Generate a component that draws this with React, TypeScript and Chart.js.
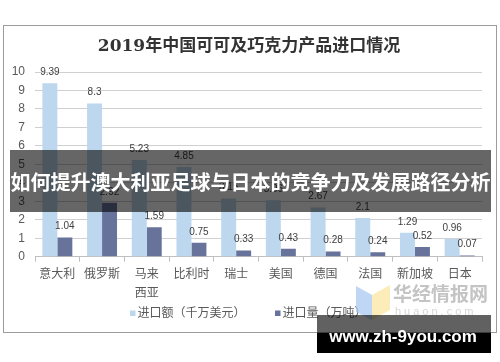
import React, { useEffect, useRef } from 'react';
import { Chart, registerables } from 'chart.js';

Chart.register(...registerables);

const categories: (string | string[])[] = ['意大利', '俄罗斯', ['马来', '西亚'], '比利时', '瑞士', '美国', '德国', '法国', '新加坡', '日本'];
const importValue = [9.39, 8.3, 5.23, 4.85, 3.15, 3.06, 2.67, 2.1, 1.29, 0.96];
const importVolume = [1.04, 2.92, 1.59, 0.75, 0.33, 0.43, 0.28, 0.24, 0.52, 0.07];
const seriesNames = ['进口额（千万美元）', '进口量（万吨）'];
const seriesColors = ['#bdd7ee', '#68739b'];
const titleText = '2019年中国可可及巧克力产品进口情况';
const bannerText = '如何提升澳大利亚足球与日本的竞争力及发展路径分析';
const watermarkName = '华经情报网';
const watermarkSub = 'huaon.com';
const watermarkUrl = 'www.zh-9you.com';

const SANS = "'Liberation Sans', 'Noto Sans CJK SC', sans-serif";

export default function App() {
  const ref = useRef<HTMLCanvasElement | null>(null);

  useEffect(() => {
    document.body.style.margin = '0';
    const canvas = ref.current;
    if (!canvas) return;

    const decor = {
      id: 'decor',
      beforeDraw(chart: any) {
        const ctx = chart.ctx;
        ctx.save();
        ctx.fillStyle = '#ffffff';
        ctx.fillRect(0, 0, chart.width, chart.height);
        ctx.strokeStyle = '#9c9c9c';
        ctx.lineWidth = 1;
        ctx.strokeRect(3.5, 25.5, 493, 307);
        ctx.fillStyle = '#333333';
        ctx.font = "bold 17px 'DejaVu Serif', 'Noto Sans CJK SC', serif";
        ctx.textAlign = 'center';
        ctx.textBaseline = 'middle';
        ctx.fillText(titleText, 249, 47);
        ctx.restore();
      },
      afterDatasetsDraw(chart: any) {
        const ctx = chart.ctx;
        ctx.save();
        ctx.font = `10px ${SANS}`;
        ctx.fillStyle = '#404040';
        ctx.textAlign = 'center';
        ctx.textBaseline = 'middle';
        chart.data.datasets.forEach((ds: any, di: number) => {
          const meta = chart.getDatasetMeta(di);
          meta.data.forEach((bar: any, i: number) => {
            ctx.fillText(String(ds.data[i]), bar.x, bar.y - 11);
          });
        });
        ctx.restore();
      },
      afterDraw(chart: any) {
        const ctx = chart.ctx;
        ctx.save();
        // legend
        ctx.font = `12px ${SANS}`;
        ctx.textBaseline = 'middle';
        ctx.textAlign = 'left';
        const lx = [130, 275];
        seriesNames.forEach((n, i) => {
          ctx.fillStyle = seriesColors[i];
          ctx.fillRect(lx[i], 310.5, 5.5, 5.5);
          ctx.fillStyle = '#595959';
          ctx.fillText(n, lx[i] + 7.5, 313.5);
        });
        // watermark logo
        ctx.globalAlpha = 0.75;
        ctx.fillStyle = '#a9c8f0';
        ctx.beginPath();
        ctx.moveTo(356, 286);
        ctx.lineTo(372, 295);
        ctx.lineTo(372, 320);
        ctx.lineTo(356, 312);
        ctx.closePath();
        ctx.fill();
        ctx.fillStyle = '#fbe6a2';
        ctx.beginPath();
        ctx.moveTo(372, 295);
        ctx.lineTo(390, 285);
        ctx.lineTo(390, 310);
        ctx.lineTo(372, 320);
        ctx.closePath();
        ctx.fill();
        ctx.globalAlpha = 1;
        ctx.fillStyle = '#c4c4c4';
        ctx.font = "bold 19px 'Noto Sans CJK SC', sans-serif";
        ctx.textAlign = 'left';
        ctx.fillText(watermarkName, 393, 294);
        ctx.fillStyle = '#d6d6d6';
        ctx.font = `11px ${SANS}`;
        (ctx as any).letterSpacing = '3px';
        ctx.fillText(watermarkSub, 395, 312);
        (ctx as any).letterSpacing = '0px';
        // banner
        ctx.fillStyle = 'rgba(0,0,0,0.6)';
        ctx.fillRect(10, 150, 481, 62);
        ctx.fillStyle = '#ffffff';
        ctx.font = "bold 20px 'Noto Sans CJK SC', sans-serif";
        ctx.textAlign = 'center';
        ctx.fillText(bannerText, 250.5, 182);
        // url box
        ctx.fillStyle = 'rgba(0,0,0,0.62)';
        ctx.fillRect(317, 315, 174, 18);
        ctx.fillStyle = '#000000';
        ctx.fillRect(317, 333, 174, 20);
        ctx.fillStyle = '#ffffff';
        ctx.font = `bold 17px ${SANS}`;
        ctx.fillText(watermarkUrl, 403, 337, 152);
        ctx.restore();
      },
    };

    const chart = new Chart(canvas, {
      type: 'bar',
      data: {
        labels: categories as any,
        datasets: [
          { label: seriesNames[0], data: importValue, backgroundColor: seriesColors[0], barPercentage: 1, categoryPercentage: 0.67 },
          { label: seriesNames[1], data: importVolume, backgroundColor: seriesColors[1], barPercentage: 1, categoryPercentage: 0.67 },
        ],
      },
      options: {
        responsive: false,
        animation: false,
        devicePixelRatio: 1,
        layout: { padding: { top: 72, left: 0, right: 18, bottom: 0 } },
        plugins: {
          legend: { display: false },
          title: { display: false },
          tooltip: { enabled: false },
        },
        scales: {
          x: {
            afterFit: (s: any) => { s.height = 105.3; },
            grid: { drawOnChartArea: false, drawTicks: true, tickLength: 5, color: '#bfbfbf', offset: true },
            border: { display: true, color: '#bfbfbf' },
            ticks: { color: '#595959', font: { size: 12, family: SANS, lineHeight: 1.55 } as any, padding: 4, maxRotation: 0, autoSkip: false },
          },
          y: {
            min: 0,
            max: 10,
            afterFit: (s: any) => { s.width = 35; },
            grid: { color: '#d0d0d0', drawTicks: false },
            border: { display: false },
            ticks: { stepSize: 1, color: '#595959', font: { size: 12, family: SANS }, padding: 10 },
          },
        },
      },
      plugins: [decor],
    });
    return () => chart.destroy();
  }, []);

  return (
    <div style={{ width: 500, height: 362, position: 'relative' }}>
      <canvas ref={ref} width={500} height={362} style={{ display: 'block' }} />
    </div>
  );
}
